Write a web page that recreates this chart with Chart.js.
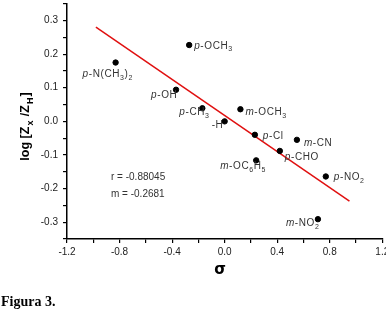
<!DOCTYPE html>
<html>
<head>
<meta charset="utf-8">
<script src="https://cdn.jsdelivr.net/npm/chart.js"></script>
<style>
  html, body { margin: 0; padding: 0; background: #fff; }
  #wrap { position: relative; width: 386px; height: 311px; }
</style>
</head>
<body>
<div id="wrap"><canvas id="chart" width="386" height="311"></canvas></div>
<script>
// substituents, sigma values and log[Zx/ZH]
const substituents = ['p-N(CH_3)_2', 'p-OCH_3', 'p-OH', 'p-CH_3', 'm-OCH_3', '-H',
  'p-Cl', 'm-CN', 'p-CHO', 'm-OC_6H_5', 'p-NO_2', 'm-NO_2'];
const sigma = [-0.83, -0.27, -0.37, -0.17, 0.12, 0.0, 0.23, 0.55, 0.42, 0.24, 0.77, 0.71];
const logZ = [0.175, 0.227, 0.094, 0.039, 0.036, 0.0, -0.040, -0.055, -0.088, -0.116, -0.164, -0.291];
// fitted line end points
const fitX = [-0.98, 0.95];
const fitY = [0.280, -0.237];
const xTickLabels = ['-1.2', '-0.8', '-0.4', '0.0', '0.4', '0.8', '1.2'];
const statsText = ['r = -0.88045', 'm = -0.2681'];

// label offsets from each point (px): start x, middle y
const labelOffsets = [[-33, 12], [5, 1], [-25, 5], [-23, 4], [5, 3], [-13, 4],
  [8, 1], [7, 3], [5, 6], [-36, 6], [8, 1], [-32, 4]];

const SANS = '"Liberation Sans", Arial, sans-serif';

function drawRich(ctx, text, x, y, size, bold) {
  // first letter italic (p/m), "_c" is a subscript char
  let cx = x;
  const w = bold ? 'bold ' : '';
  for (let i = 0; i < text.length; i++) {
    let ch = text[i];
    let font = w + size + 'px ' + SANS;
    let dy = 0;
    if (i === 0 && (ch === 'p' || ch === 'm') && text[1] === '-') {
      font = 'italic ' + font;
    }
    if (ch === '_') {
      i++;
      ch = text[i];
      font = w + Math.round(size * 0.72) + 'px ' + SANS;
      dy = size * 0.35;
    }
    ctx.font = font;
    ctx.fillText(ch, cx, y + dy);
    cx += ctx.measureText(ch).width + 0.6;
  }
  return cx - x;
}

const annotate = {
  id: 'annotate',
  afterDraw(chart) {
    const ctx = chart.ctx;
    const xs = chart.scales.x, ys = chart.scales.y;
    ctx.save();
    ctx.fillStyle = '#333';
    ctx.textBaseline = 'middle';
    ctx.textAlign = 'left';
    substituents.forEach((s, i) => {
      const px = xs.getPixelForValue(sigma[i]);
      const py = ys.getPixelForValue(logZ[i]);
      drawRich(ctx, s, px + labelOffsets[i][0], py + labelOffsets[i][1], 10, false);
    });
    ctx.font = '10px ' + SANS;
    ctx.fillText(statsText[0], 111, 177);
    ctx.fillText(statsText[1], 111, 194);

    // y axis title, rotated
    ctx.fillStyle = '#000';
    ctx.save();
    ctx.translate(26, 126);
    ctx.rotate(-Math.PI / 2);
    const main = 'bold 12.5px ' + SANS;
    const sub = 'bold 9px ' + SANS;
    const parts = [['log [Z', 0], ['x', 1], [' /Z', 0], ['H', 1], [']', 0]];
    let wTot = 0;
    parts.forEach(p => {
      ctx.font = p[1] ? sub : main;
      wTot += ctx.measureText(p[0]).width + 1;
    });
    let cx = -wTot / 2;
    parts.forEach(p => {
      ctx.font = p[1] ? sub : main;
      ctx.fillText(p[0], cx, p[1] ? 5 : 0);
      cx += ctx.measureText(p[0]).width + 1;
    });
    ctx.restore();

    // x axis title
    ctx.textAlign = 'center';
    ctx.font = 'bold 15px "DejaVu Sans", sans-serif';
    ctx.fillText('σ', 220, 270);

    // caption
    ctx.textAlign = 'left';
    ctx.font = 'bold 14px "Liberation Serif", "Times New Roman", serif';
    ctx.fillText('Figura 3.', 1, 302);
    ctx.restore();
  }
};

new Chart(document.getElementById('chart'), {
  type: 'scatter',
  data: {
    datasets: [{
      data: sigma.map((v, i) => ({ x: v, y: logZ[i] })),
      backgroundColor: '#000',
      borderColor: '#000',
      pointRadius: 2.7,
      pointHoverRadius: 2.7
    }, {
      type: 'line',
      data: fitX.map((v, i) => ({ x: v, y: fitY[i] })),
      borderColor: '#e01010',
      borderWidth: 1.5,
      pointRadius: 0,
      fill: false
    }]
  },
  options: {
    responsive: false,
    animation: false,
    layout: { padding: 0 },
    plugins: { legend: { display: false }, tooltip: { enabled: false } },
    scales: {
      x: {
        type: 'linear',
        min: -1.2,
        max: 1.2,
        afterBuildTicks: s => {
          s.ticks = [];
          for (let k = -6; k <= 6; k++) s.ticks.push({ value: k * 0.2 });
        },
        afterFit: s => { s.height = 72; s.paddingLeft = 0; s.paddingRight = 0; },
        border: { color: '#000', width: 1.5 },
        grid: { drawOnChartArea: false, color: '#000', tickLength: 4, lineWidth: 1.2 },
        ticks: {
          autoSkip: false,
          maxRotation: 0,
          padding: 3,
          color: '#222',
          font: { size: 10, family: SANS },
          callback: function (v) {
            const k = Math.round(v / 0.4);
            if (Math.abs(v - k * 0.4) > 1e-6) return '';
            return xTickLabels[k + 3];
          }
        }
      },
      y: {
        type: 'linear',
        min: -0.35,
        max: 0.35,
        afterBuildTicks: s => {
          s.ticks = [];
          for (let k = -7; k <= 7; k++) s.ticks.push({ value: k * 0.05 });
        },
        afterFit: s => { s.width = 67; s.paddingTop = 0; s.paddingBottom = 0; },
        border: { color: '#000', width: 1.5 },
        grid: { drawOnChartArea: false, color: '#000', tickLength: 4, lineWidth: 1.2 },
        ticks: {
          autoSkip: false,
          padding: 5,
          color: '#222',
          font: { size: 10, family: SANS },
          callback: function (v) {
            const k = Math.round(v * 10);
            if (Math.abs(v * 10 - k) > 1e-6 || Math.abs(k) > 3) return '';
            return (k / 10).toFixed(1);
          }
        }
      }
    }
  },
  plugins: [annotate]
});
</script>
</body>
</html>
